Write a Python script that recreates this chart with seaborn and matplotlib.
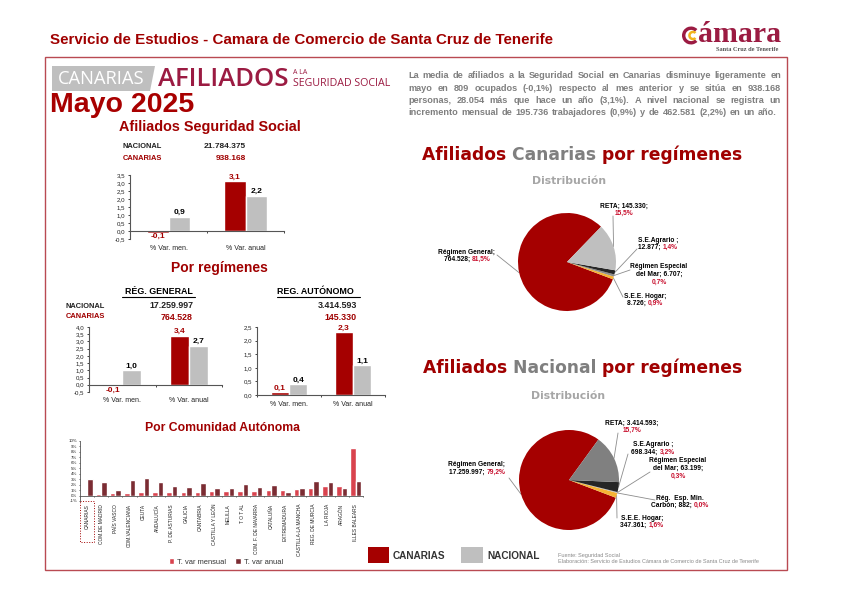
import math
import matplotlib
matplotlib.use('Agg')
import matplotlib.pyplot as plt
from matplotlib.patches import Polygon, Rectangle, Wedge
from matplotlib.ticker import FuncFormatter, MultipleLocator, FixedLocator
import pandas as pd
import seaborn as sns

sns.set_theme(style='white')
plt.rcParams['font.family'] = ['Liberation Sans', 'DejaVu Sans']

W, H = 841, 595
RED = '#a50000'
TITLE_RED = '#a00000'
GREY = '#bfbfbf'

# data
periods = ['% Var. men.', '% Var. anual']
total_canarias = [-0.1, 3.1]
total_nacional = [0.9, 2.2]
general_canarias = [-0.1, 3.4]
general_nacional = [1.0, 2.7]
autonomo_canarias = [0.1, 2.3]
autonomo_nacional = [0.4, 1.1]

ccaa = ['CANARIAS', 'COM.DE MADRID', 'PAÍS VASCO', 'COM.VALENCIANA', 'CEUTA', 'ANDALUCÍA',
        'P. DE ASTURIAS', 'GALICIA', 'CANTABRIA', 'CASTILLA Y LEÓN', 'MELILLA', 'T O T AL',
        'COM. F. DE NAVARRA', 'CATALUÑA', 'EXTREMADURA', 'CASTILLA-LA MANCHA', 'REG. DE MURCIA',
        'LA RIOJA', 'ARAGÓN', 'ILLES BALEARS']
ccaa_mensual = [-0.1, 0.3, 0.4, 0.4, 0.6, 0.6, 0.6, 0.7, 0.7, 0.8, 0.8, 0.9, 0.9, 1.0, 1.0, 1.2, 1.4, 1.7, 1.8, 8.7]
ccaa_anual = [3.1, 2.5, 1.0, 2.9, 3.2, 2.4, 1.8, 1.6, 2.3, 1.4, 1.3, 2.2, 1.6, 2.0, 0.6, 1.4, 2.6, 2.5, 1.4, 2.6]

canarias_regimen = [764528, 8726, 6707, 12877, 145330]
canarias_colors = [RED, '#f5b335', '#8c8c8c', '#262626', GREY]
canarias_labels = [
    ['Régimen General;', '764.528; |81,5%'],
    ['S.E.E. Hogar;', '8.726; |0,9%'],
    ['Régimen Especial', 'del Mar; 6.707;', '|0,7%'],
    ['S.E.Agrario ;', '12.877; |1,4%'],
    ['RETA; 145.330;', '|15,5%'],
]
nacional_regimen = [17259997, 347361, 882, 63199, 698344, 3414593]
nacional_colors = [RED, '#f5b335', '#5f5f5f', '#bfbfbf', '#262626', '#808080']
nacional_labels = [
    ['Régimen General;', '17.259.997; |79,2%'],
    ['S.E.E. Hogar;', '347.361; |1,6%'],
    ['Rég.  Esp. Min.', 'Carbón; 882; |0,0%'],
    ['Régimen Especial', 'del Mar; 63.199;', '|0,3%'],
    ['S.E.Agrario ;', '698.344; |3,2%'],
    ['RETA; 3.414.593;', '|15,7%'],
]

parrafo = ['La media de afiliados a la Seguridad Social en Canarias disminuye ligeramente en',
           'mayo en 809 ocupados (-0,1%) respecto al mes anterior y se sitúa en 938.168',
           'personas, 28.054 más que hace un año (3,1%). A nivel nacional se registra un',
           'incremento mensual de 195.736 trabajadores (0,9%) y de 462.581 (2,2%) en un año.']

fig = plt.figure(figsize=(W / 100, H / 100), dpi=100, facecolor='white')
bg = fig.add_axes([0, 0, 1, 1], zorder=0)
bg.set_xlim(0, W)
bg.set_ylim(H, 0)
bg.axis('off')
renderer = fig.canvas.get_renderer()


def px_axes(left, top, right, bottom):
    ax = fig.add_axes([left / W, 1 - bottom / H, (right - left) / W, (bottom - top) / H], zorder=2)
    ax.patch.set_alpha(0)
    return ax


def coma(v, _=None):
    return f'{v:.1f}'.replace('.', ',')


def txt(x, y, s, size=6, color='black', weight='bold', ha='left', **kw):
    return bg.text(x, y, s, fontsize=size, color=color, fontweight=weight, ha=ha, va='center', **kw)


def width_of(s, size, weight='bold', **kw):
    t = bg.text(0, 0, s, fontsize=size, fontweight=weight, **kw)
    w = t.get_window_extent(renderer).width
    t.remove()
    return w


def mixed(x, y, parts, size, **kw):
    # parts = [(texto, color), ...] en la misma linea, centrado en x
    widths = [width_of(p[0].replace(' ', '\u00a0'), size, **kw) for p in parts]
    cur = x - sum(widths) / 2
    for (s, c), w in zip(parts, widths):
        txt(cur, y, s.replace(' ', '\u00a0'), size=size, color=c, **kw)
        cur += w


def var_chart(box, canarias, nacional, ylim, pad, width):
    df = pd.DataFrame({'periodo': periods * 2,
                       'serie': ['CANARIAS'] * 2 + ['NACIONAL'] * 2,
                       'valor': canarias + nacional})
    ax = px_axes(*box)
    sns.barplot(data=df, x='periodo', y='valor', hue='serie', palette=[RED, GREY],
                width=width, gap=0, legend=False, ax=ax, saturation=1)
    ax.set_xlim(-0.5, 1.5)
    ax.set_ylim(*ylim)
    ax.set_xlabel('')
    ax.set_ylabel('')
    sns.despine(ax=ax)
    ax.spines['bottom'].set_position(('data', 0))
    ax.spines['bottom'].set_color('#555555')
    ax.spines['left'].set_color('#555555')
    ax.spines['bottom'].set_linewidth(0.8)
    ax.spines['left'].set_linewidth(0.8)
    ax.yaxis.set_major_locator(MultipleLocator(0.5))
    ax.yaxis.set_major_formatter(FuncFormatter(coma))
    ax.tick_params(axis='y', labelsize=4.4, length=1.5, width=0.6, pad=2, left=True, labelcolor='#222222')
    ax.tick_params(axis='x', which='major', labelsize=5, length=0, pad=pad, labelcolor='#222222')
    ax.xaxis.set_minor_locator(FixedLocator([-0.5, 0.5, 1.5]))
    ax.tick_params(axis='x', which='minor', length=1.5, width=0.6, bottom=True)
    for cont, vals, col in zip(ax.containers, [canarias, nacional], [RED, 'black']):
        ax.bar_label(cont, labels=[coma(v) for v in vals], fontsize=6, fontweight='bold', color=col, padding=0.5)
    return ax


def pie_chart(cx, cy, r, values, colors, labels, start, anchors):
    ax = px_axes(cx - r, cy - r, cx + r, cy + r)
    wedges, _ = ax.pie(values, colors=colors, startangle=start, counterclock=True, radius=1,
                       wedgeprops={'linewidth': 0, 'edgecolor': 'none'})
    ax.set_xlim(-1, 1)
    ax.set_ylim(-1, 1)
    for w, lab, anc in zip(wedges, labels, anchors):
        ang = math.radians((w.theta1 + w.theta2) / 2)
        ex, ey = cx + r * math.cos(ang), cy - r * math.sin(ang)
        bg.plot([ex, anc[0]], [ey, anc[1]], color='#8c8c8c', lw=0.6, zorder=3)
        for i, line in enumerate(lab):
            y = anc[3] + i * 7.8
            parts = line.split('|')
            segs = []
            if parts[0]:
                segs.append((parts[0], 'black'))
            if len(parts) > 1:
                segs.append((parts[1], '#c8102e'))
            mixed(anc[2], y, segs, 4.8)


# cabecera
txt(50, 40.5, 'Servicio de Estudios - Camara de Comercio de Santa Cruz de Tenerife', size=10.9, color=TITLE_RED)
bg.add_patch(Rectangle((45, 57), 742, 513, fill=False, ec='#b94a52', lw=1))
bg.add_patch(Wedge((691, 35.5), 9, 45, 315, width=3.4, fc='#9b1b42', ec='none'))
bg.add_patch(Wedge((693, 35.5), 4.8, 45, 315, width=2.5, fc='#f2b31c', ec='none'))
txt(698, 34, 'ámara', size=21.5, color='#9b1b42', family='Liberation Serif')
txt(716, 49.5, 'Santa Cruz de Tenerife', size=4.6, color='#555555', family='Liberation Serif')

# banner
bg.add_patch(Polygon([(52, 66), (155, 66), (150, 91), (52, 91)], fc=GREY, ec='none'))
txt(58, 79, 'CANARIAS', size=13.2, color='white', weight='normal', family='Open Sans')
txt(158, 79, 'AFILIADOS', size=18.5, color='#9b1b42', weight='semibold', family='Open Sans')
txt(293, 72, 'A LA', size=5, color='#9b1b42', weight='normal', family='Open Sans')
txt(293, 83, 'SEGURIDAD SOCIAL', size=7.7, color='#9b1b42', weight='normal', family='Open Sans')
txt(50, 104.5, 'Mayo 2025', size=20.5, color='#a80000')

# columna izquierda
txt(210, 127, 'Afiliados Seguridad Social', size=10.4, color=TITLE_RED, ha='center')
txt(123, 147, 'NACIONAL', size=5.4, color='#222222')
txt(246, 147, '21.784.375', size=6, color='#222222', ha='right')
txt(123, 158, 'CANARIAS', size=5.4, color=TITLE_RED)
txt(246, 158, '938.168', size=6, color=TITLE_RED, ha='right')
var_chart((130, 175, 284, 239), total_canarias, total_nacional, (-0.5, 3.5), 10, 0.57)

txt(219, 268, 'Por regímenes', size=10, color=TITLE_RED, ha='center')
txt(159, 292, 'RÉG. GENERAL', size=6.4, ha='center')
bg.plot([122, 195], [297, 297], color='black', lw=0.8)
txt(315, 292, 'REG. AUTÓNOMO', size=6.4, ha='center')
bg.plot([277, 360], [297, 297], color='black', lw=0.8)
txt(66, 306, 'NACIONAL', size=5.4, color='#222222')
txt(193, 306, '17.259.997', size=6.4, color='#222222', ha='right')
txt(66, 317, 'CANARIAS', size=5.4, color=TITLE_RED)
txt(193, 317, '764.528', size=6.4, color=TITLE_RED, ha='right')
txt(357, 306, '3.414.593', size=6.4, color='#222222', ha='right')
txt(357, 317, '145.330', size=6.4, color=TITLE_RED, ha='right')
var_chart((89, 327, 222, 392), general_canarias, general_nacional, (-0.5, 4.0), 9, 0.57)
var_chart((257, 327, 385, 395), autonomo_canarias, autonomo_nacional, (0, 2.5), 4, 0.57)

txt(223, 428, 'Por Comunidad Autónoma', size=8.8, color=TITLE_RED, ha='center')

# comunidades
df_ccaa = pd.DataFrame({'ccaa': ccaa * 2,
                        'serie': ['T. var mensual'] * len(ccaa) + ['T. var anual'] * len(ccaa),
                        'valor': [v / 100 for v in ccaa_mensual + ccaa_anual]})
ax4 = px_axes(80, 441, 363, 501)
sns.barplot(data=df_ccaa, x='ccaa', y='valor', hue='serie', palette=['#d9434e', '#7b2c33'],
            width=0.78, gap=0, ax=ax4, saturation=1)
ax4.set_xlim(-0.5, len(ccaa) - 0.5)
ax4.set_ylim(-0.01, 0.10)
ax4.set_xlabel('')
ax4.set_ylabel('')
sns.despine(ax=ax4)
ax4.spines['bottom'].set_position(('data', 0))
ax4.spines['bottom'].set_linewidth(0.6)
ax4.spines['left'].set_linewidth(0.6)
ax4.spines['bottom'].set_color('#555555')
ax4.spines['left'].set_color('#555555')
ax4.yaxis.set_major_locator(MultipleLocator(0.01))
ax4.yaxis.set_major_formatter(FuncFormatter(lambda v, _: f'{v * 100:.0f}%'))
ax4.tick_params(axis='y', labelsize=3.2, length=1, width=0.5, pad=1, left=True)
ax4.tick_params(axis='x', which='major', labelsize=3.5, length=0, pad=6, labelrotation=90)
ax4.xaxis.set_minor_locator(FixedLocator([i - 0.5 for i in range(len(ccaa) + 1)]))
ax4.tick_params(axis='x', which='minor', length=1, width=0.5, bottom=True)
for lab in ax4.get_xticklabels():
    lab.set_color('#222222')
ax4.legend(loc='center', bbox_to_anchor=(226, 562), bbox_transform=bg.transData, ncol=2, frameon=False,
           fontsize=5.4, handlelength=0.7, handleheight=0.7, columnspacing=1.2, handletextpad=0.4,
           labelcolor='#333333')
bg.add_patch(Rectangle((80, 501), 14, 41, fill=False, ec=TITLE_RED, lw=0.7, ls=':'))

# leyenda inferior
bg.add_patch(Rectangle((368, 547), 21, 16, fc=RED, ec='none'))
txt(393, 556, 'CANARIAS', size=7.2, color='#333333')
bg.add_patch(Rectangle((461, 547), 22, 16, fc=GREY, ec='none'))
txt(487, 556, 'NACIONAL', size=7.2, color='#333333')
txt(558, 555, 'Fuente: Seguridad Social', size=4, color='#8a8a8a', weight='normal')
txt(558, 561.5, 'Elaboración: Servicio de Estudios Cámara de Comercio de Santa Cruz de Tenerife',
    size=4, color='#8a8a8a', weight='normal')

# parrafo justificado
para_size = 6.6
para_width = [373, 373, 373, 369]
for i, line in enumerate(parrafo):
    y = 76 + i * 12.1
    words = line.split()
    widths = [width_of(w, para_size) for w in words]
    gap = (para_width[i] - sum(widths)) / (len(words) - 1)
    cur = 408
    for w, wd in zip(words, widths):
        txt(cur, y, w, size=para_size, color='#7f7f7f')
        cur += wd + gap

# columna derecha
DJ = 'DejaVu Sans'
mixed(582.5, 155, [('Afiliados ', TITLE_RED), ('Canarias ', '#7f7f7f'), ('por regímenes', TITLE_RED)], 12.3, family=DJ)
txt(569, 181, 'Distribución', size=7.8, color='#a6a6a6', ha='center', family=DJ)
pie_chart(567, 262, 49, canarias_regimen, canarias_colors, canarias_labels, 46,
          [(497, 255, 467, 252), (623, 297, 645, 296), (630, 270, 659, 267), (637, 249, 658, 240), (613, 216, 624, 206)])

mixed(582.5, 368, [('Afiliados ', TITLE_RED), ('Nacional ', '#7f7f7f'), ('por regímenes', TITLE_RED)], 12.3, family=DJ)
txt(568, 396, 'Distribución', size=7.8, color='#a6a6a6', ha='center', family=DJ)
pie_chart(569, 480, 50, nacional_regimen, nacional_colors, nacional_labels, 54,
          [(509, 478, 477, 465), (617, 518, 642, 518), (655, 500, 680, 498), (650, 472, 678, 461), (628, 454, 653, 445), (618, 433, 632, 423)])

fig.savefig('out.png', dpi=100)
